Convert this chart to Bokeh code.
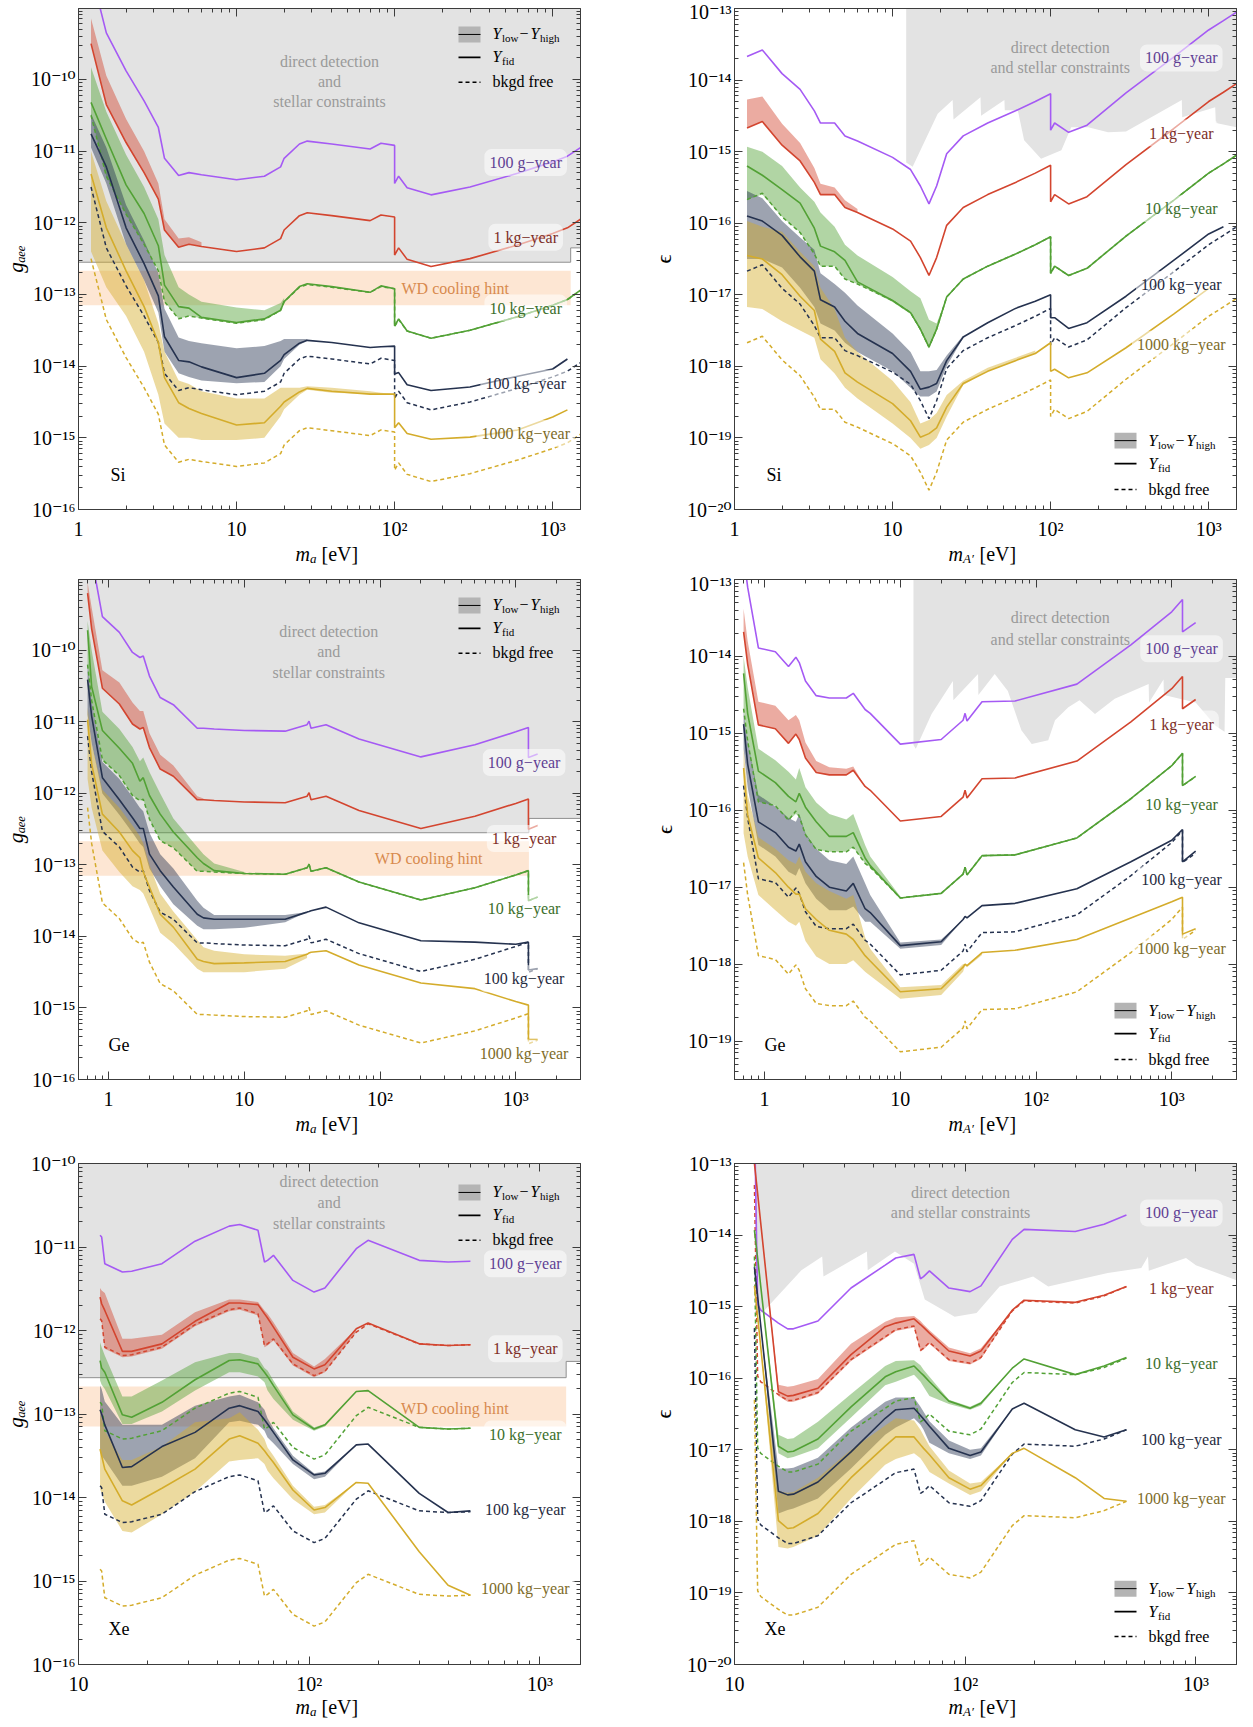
import math
import numpy as np
from bokeh.plotting import figure
from bokeh.models import Range1d, FixedTicker, LogAxis, Label, CustomJSTickFormatter
from bokeh.layouts import row, column
from bokeh.embed import file_html
from bokeh.resources import INLINE

nan = float("nan")

# ======================= DATA (x in eV, y as log10 of coupling) =======================
# ---- Si, axion (g_aee) ----
si_a_x = [1.2, 1.5, 2.0, 2.6, 3.2, 3.5, 4.3, 5.0, 6.0, 10, 15, 19, 20, 25, 28, 40, 70, 82, 100, 100, 106, 120, 170, 300, 600, 1000, 1240, 1500]
si_a_100g = [-8.50, -9.35, -9.88, -10.30, -10.67, -11.10, -11.34, -11.30, -11.33, -11.40, -11.35, -11.22, -11.10, -10.90, -10.86, -10.90, -10.97, -10.89, -10.92, -11.45, -11.35, -11.51, -11.61, -11.50, -11.31, -11.15, -11.07, -10.95]
si_a_1kg = [-9.50, -10.35, -10.88, -11.30, -11.67, -12.10, -12.34, -12.30, -12.33, -12.40, -12.35, -12.22, -12.10, -11.90, -11.86, -11.90, -11.97, -11.89, -11.92, -12.45, -12.35, -12.51, -12.61, -12.50, -12.31, -12.15, -12.07, -11.95]
si_a_1kg_hi = [-9.15, -9.95, -10.55, -11.00, -11.45, -11.95, -12.22, -12.20, -12.27]
si_a_10kg = [-10.32, -10.83, -11.47, -11.87, -12.32, -12.87, -13.17, -13.19, -13.32, -13.39, -13.34, -13.22, -13.10, -12.89, -12.85, -12.89, -12.97, -12.88, -12.92, -13.44, -13.34, -13.51, -13.61, -13.50, -13.31, -13.15, -13.07, -12.94]
si_a_10kg_free = [-10.50, -11.35, -11.88, -12.30, -12.67, -13.10, -13.34, -13.30, -13.33, -13.40, -13.35, -13.22, -13.10, -12.90, -12.86, -12.90, -12.97, -12.89, -12.92, -13.45, -13.35, -13.51, -13.61, -13.50, -13.31, -13.15, -13.07, -12.95]
si_a_10kg_hi = [-9.83, -10.45, -11.05, -11.50, -11.95, -12.45, -12.90, -13.00, -13.10, -13.18, -13.22, -13.12, -13.05]
si_a_10kg_lo = [-10.50, -11.35, -11.88, -12.30, -12.67, -13.10, -13.34, -13.30, -13.33, -13.41, -13.36, -13.23, -13.11]
si_a_100kg = [-10.76, -11.22, -12.07, -12.57, -13.02, -13.59, -13.92, -13.94, -14.01, -14.16, -14.10, -13.92, -13.84, -13.68, -13.64, -13.67, -13.74, -13.73, -13.72, -14.11, -14.09, -14.26, -14.34, -14.29, -14.14, -14.04, -13.90, nan]
si_a_100kg_free = [-11.50, -12.35, -12.88, -13.30, -13.67, -14.10, -14.34, -14.30, -14.33, -14.40, -14.35, -14.22, -14.10, -13.90, -13.86, -13.90, -13.97, -13.89, -13.92, -14.45, -14.35, -14.51, -14.61, -14.50, -14.31, -14.15, -14.07, -13.95]
si_a_100kg_hi = [-10.48, -10.95, -11.75, -12.25, -12.70, -13.20, -13.60, -13.65, -13.68, -13.75, -13.72, -13.65, -13.62, -13.62, -13.62]
si_a_100kg_lo = [-10.95, -11.45, -12.30, -12.80, -13.25, -13.80, -14.10, -14.15, -14.20, -14.24, -14.22, -14.00, -13.90, -13.70, -13.65]
si_a_1000kg = [-11.32, -12.07, -12.67, -13.17, -13.67, -14.16, -14.51, -14.59, -14.66, -14.82, -14.79, -14.56, -14.50, -14.36, -14.31, -14.35, -14.39, -14.39, -14.39, -14.86, -14.79, -14.94, -15.02, -14.99, -14.89, -14.71, -14.61, nan]
si_a_1000kg_free = [-12.50, -13.35, -13.88, -14.30, -14.67, -15.10, -15.34, -15.30, -15.33, -15.40, -15.35, -15.22, -15.10, -14.90, -14.86, -14.90, -14.97, -14.89, -14.92, -15.45, -15.35, -15.51, -15.61, -15.50, -15.31, -15.15, -15.07, -14.95]
si_a_1000kg_hi = [-11.00, -11.70, -12.30, -12.80, -13.40, -13.80, -14.20, -14.25, -14.35, -14.45, -14.45, -14.30, -14.30, -14.30, -14.28, -14.30, -14.35, -14.37, -14.39]
si_a_1000kg_lo = [-12.40, -12.90, -13.30, -13.80, -14.40, -14.80, -15.00, -15.00, -15.03, -15.03, -15.00, -14.70, -14.60, -14.40, -14.33, -14.37]
si_a_con_x = [1, 1300, 1300, 1500]
si_a_con_y = [-12.55, -12.55, -12.35, -12.35]

# ---- Si, dark photon (epsilon) ----
si_d_x = [1.2, 1.5, 2.0, 2.6, 3.2, 3.5, 4.3, 5.0, 6.0, 10, 13, 15, 17, 19, 22, 28, 40, 60, 80, 100, 100, 106, 130, 170, 300, 600, 1000, 1240, 1500]
si_d_100g = [-13.67, -13.58, -13.91, -14.13, -14.43, -14.60, -14.60, -14.78, -14.85, -15.08, -15.25, -15.48, -15.73, -15.48, -15.03, -14.78, -14.60, -14.43, -14.30, -14.19, -14.70, -14.60, -14.73, -14.63, -14.18, -13.68, -13.30, -13.17, -13.05]
si_d_1kg = [-14.67, -14.58, -14.91, -15.13, -15.43, -15.60, -15.60, -15.78, -15.85, -16.08, -16.25, -16.48, -16.73, -16.48, -16.03, -15.78, -15.60, -15.43, -15.30, -15.19, -15.70, -15.60, -15.73, -15.63, -15.18, -14.68, -14.30, -14.17, -14.05]
si_d_1kg_hi = [-14.27, -14.23, -14.61, -14.88, -15.23, -15.45, -15.50, -15.68, -15.80]
si_d_10kg = [-15.20, -15.33, -15.53, -15.72, -16.07, -16.32, -16.40, -16.52, -16.82, -17.08, -17.25, -17.48, -17.73, -17.48, -17.03, -16.78, -16.60, -16.43, -16.30, -16.19, -16.70, -16.60, -16.73, -16.63, -16.18, -15.68, -15.30, -15.17, -15.05]
si_d_10kg_free = [-15.67, -15.58, -15.91, -16.13, -16.43, -16.60, -16.60, -16.78, -16.85, -17.08, -17.25, -17.48, -17.73, -17.48, -17.03, -16.78, -16.60, -16.43, -16.30, -16.19, -16.70, -16.60, -16.73, -16.63, -16.18, -15.68, -15.30, -15.17, -15.05]
si_d_10kg_hi = [-14.93, -15.00, -15.20, -15.50, -15.70, -15.85, -16.05, -16.30, -16.45, -16.75, -16.95, -17.05, -17.35, -17.40, -17.03]
si_d_10kg_lo = [-15.67, -15.60, -15.91, -16.13, -16.43, -16.60, -16.60, -16.78, -16.85, -17.10, -17.27, -17.50, -17.75, -17.50]
si_d_100kg = [-15.90, -15.97, -16.17, -16.47, -16.67, -17.07, -17.17, -17.37, -17.54, -17.82, -18.07, -18.32, -18.29, -18.24, -17.92, -17.59, -17.39, -17.19, -17.09, -17.00, -17.32, -17.32, -17.47, -17.39, -17.02, -16.52, -16.15, -16.05, nan]
si_d_100kg_free = [-16.67, -16.58, -16.91, -17.13, -17.43, -17.60, -17.60, -17.78, -17.85, -18.08, -18.25, -18.48, -18.73, -18.48, -18.03, -17.78, -17.60, -17.43, -17.30, -17.19, -17.70, -17.60, -17.73, -17.63, -17.18, -16.68, -16.30, -16.17, -16.05]
si_d_100kg_hi = [-15.55, -15.65, -15.97, -16.20, -16.37, -16.70, -16.85, -16.97, -17.15, -17.54, -17.80, -18.07, -18.07, -18.05, -17.85, -17.57]
si_d_100kg_lo = [-16.50, -16.50, -16.62, -16.90, -17.17, -17.40, -17.50, -17.67, -17.80, -18.07, -18.30, -18.42, -18.42, -18.35, -18.00, -17.60]
si_d_1000kg = [-16.45, -16.50, -16.72, -17.02, -17.22, -17.62, -17.79, -18.09, -18.22, -18.52, -18.76, -18.99, -18.94, -18.86, -18.57, -18.24, -18.07, -17.92, -17.82, -17.67, -18.07, -18.04, -18.16, -18.09, -17.74, -17.27, -16.91, nan, nan]
si_d_1000kg_free = [-17.67, -17.58, -17.91, -18.13, -18.43, -18.60, -18.60, -18.78, -18.85, -19.08, -19.25, -19.48, -19.73, -19.48, -19.03, -18.78, -18.60, -18.43, -18.30, -18.19, -18.70, -18.60, -18.73, -18.63, -18.18, -17.68, -17.30, -17.17, -17.05]
si_d_1000kg_hi = [-15.97, -16.05, -16.12, -16.40, -16.60, -16.90, -17.20, -17.60, -17.80, -18.20, -18.50, -18.80, -18.75, -18.65, -18.40, -18.20, -18.02, -17.88, -17.78]
si_d_1000kg_lo = [-17.17, -17.20, -17.37, -17.50, -17.60, -17.90, -18.10, -18.30, -18.45, -18.80, -19.00, -19.15, -19.10, -19.00, -18.70, -18.26]
si_d_con_x = [12.2, 12.2, 13.4, 16, 19.3, 24, 24.3, 36, 36.3, 51, 51.3, 62, 68, 87, 117, 135, 173, 231, 300, 676, 680, 1100, 1110, 1500, 1500]
si_d_con_y = [-13, -15.15, -15.21, -14.85, -14.47, -14.28, -14.55, -14.24, -14.5, -14.28, -14.42, -14.42, -14.84, -15.10, -14.98, -14.66, -14.66, -14.73, -14.72, -14.28, -14.52, -14.38, -14.6, -14.66, -13]

# ---- Ge, axion ----
ge_a_x = [0.7, 0.75, 0.9, 1.2, 1.5, 1.7, 1.8, 2.0, 2.4, 3.0, 4.5, 5.0, 6.0, 10, 20, 29, 30, 31, 40, 70, 200, 500, 1000, 1240, 1240, 1450]
ge_a_100g = [-8.20, -8.70, -9.53, -9.75, -10.03, -10.10, -10.08, -10.36, -10.66, -10.76, -11.09, -11.09, -11.10, -11.12, -11.13, -11.04, -10.99, -11.09, -11.04, -11.24, -11.49, -11.32, -11.14, -11.08, -11.50, -11.45]
ge_a_1kg = [-9.20, -9.70, -10.53, -10.75, -11.03, -11.10, -11.08, -11.36, -11.66, -11.76, -12.09, -12.09, -12.10, -12.12, -12.13, -12.04, -11.99, -12.09, -12.04, -12.24, -12.49, -12.32, -12.14, -12.08, -12.50, -12.45]
ge_a_1kg_hi = [-9.05, -9.40, -10.28, -10.45, -10.73, -10.85, -10.85, -11.16, -11.46, -11.61, -12.04, -12.07]
ge_a_10kg = [-9.72, -10.51, -11.12, -11.37, -11.58, -11.83, -11.78, -12.03, -12.29, -12.54, -12.90, -12.98, -13.08, -13.12, -13.13, -13.04, -12.99, -13.09, -13.04, -13.24, -13.49, -13.32, -13.14, -13.08, -13.50, -13.45]
ge_a_10kg_free = [-10.20, -10.70, -11.53, -11.75, -12.03, -12.10, -12.08, -12.36, -12.66, -12.76, -13.09, -13.09, -13.10, -13.12, -13.13, -13.04, -12.99, -13.09, -13.04, -13.24, -13.49, -13.32, -13.14, -13.08, -13.50, -13.45]
ge_a_10kg_hi = [-9.59, -10.00, -10.86, -11.10, -11.35, -11.55, -11.50, -11.70, -12.00, -12.35, -12.75, -12.85, -12.98, -13.10]
ge_a_10kg_lo = [-10.20, -10.70, -11.53, -11.75, -12.03, -12.10, -12.08, -12.36, -12.66, -12.76, -13.09, -13.09, -13.10, -13.13]
ge_a_100kg = [-10.41, -10.92, -11.78, -12.09, -12.34, -12.49, -12.49, -12.85, -13.08, -13.31, -13.69, -13.74, -13.76, -13.76, -13.76, -13.66, -13.65, -13.64, -13.59, -13.81, -14.06, -14.08, -14.11, -14.08, -14.47, -14.45]
ge_a_100kg_free = [-11.20, -11.70, -12.53, -12.75, -13.03, -13.10, -13.08, -13.36, -13.66, -13.76, -14.09, -14.09, -14.10, -14.12, -14.13, -14.04, -13.99, -14.09, -14.04, -14.24, -14.49, -14.32, -14.14, -14.08, -14.50, -14.45]
ge_a_100kg_hi = [-10.20, -10.70, -11.56, -11.80, -12.05, -12.20, -12.25, -12.55, -12.85, -13.05, -13.50, -13.60, -13.70, -13.70, -13.70, -13.66]
ge_a_100kg_lo = [-10.90, -11.30, -12.00, -12.30, -12.55, -12.70, -12.75, -13.05, -13.30, -13.55, -13.85, -13.90, -13.90, -13.88, -13.80, -13.66]
ge_a_1000kg = [-10.97, -11.59, -12.29, -12.54, -12.80, -12.90, -13.10, -13.31, -13.69, -13.87, -14.32, -14.35, -14.38, -14.37, -14.35, -14.25, -14.23, -14.22, -14.20, -14.40, -14.65, -14.73, -14.91, -14.96, -15.44, -15.44]
ge_a_1000kg_free = [-12.20, -12.70, -13.53, -13.75, -14.03, -14.10, -14.08, -14.36, -14.66, -14.76, -15.09, -15.09, -15.10, -15.12, -15.13, -15.04, -14.99, -15.09, -15.04, -15.24, -15.49, -15.32, -15.14, -15.08, -15.50, -15.45]
ge_a_1000kg_hi = [-10.80, -11.30, -11.95, -12.20, -12.45, -12.60, -12.70, -13.00, -13.40, -13.65, -14.05, -14.15, -14.20, -14.25, -14.27, -14.24]
ge_a_1000kg_lo = [-11.80, -12.20, -12.80, -13.10, -13.30, -13.35, -13.40, -13.60, -13.95, -14.10, -14.45, -14.50, -14.50, -14.50, -14.45, -14.30]
ge_a_con_x = [0.6, 1250, 1250, 3000]
ge_a_con_y = [-12.55, -12.55, -12.35, -12.35]

# ---- Ge, dark photon ----
ge_d_x = [0.7, 0.75, 0.9, 1.2, 1.5, 1.7, 1.8, 2.0, 2.4, 3.0, 4.0, 4.5, 5.5, 6.0, 10, 20, 29, 30, 31, 40, 70, 200, 500, 1000, 1200, 1200, 1500]
ge_d_100g = [-12.68, -13.10, -13.89, -13.94, -14.13, -14.01, -14.08, -14.32, -14.51, -14.54, -14.54, -14.48, -14.69, -14.74, -15.14, -15.08, -14.83, -14.74, -14.84, -14.59, -14.58, -14.36, -13.85, -13.42, -13.26, -13.68, -13.56]
ge_d_1kg = [-13.68, -14.10, -14.89, -14.94, -15.13, -15.01, -15.08, -15.32, -15.51, -15.54, -15.54, -15.48, -15.69, -15.74, -16.14, -16.08, -15.83, -15.74, -15.84, -15.59, -15.58, -15.36, -14.85, -14.42, -14.26, -14.68, -14.56]
ge_d_1kg_hi = [-13.38, -13.80, -14.59, -14.64, -14.83, -14.76, -14.83, -15.12, -15.36, -15.44, -15.46, -15.43, -15.69]
ge_d_10kg = [-14.22, -14.74, -15.49, -15.64, -15.82, -15.89, -15.78, -15.96, -16.15, -16.34, -16.34, -16.29, -16.62, -16.72, -17.14, -17.08, -16.83, -16.74, -16.84, -16.59, -16.58, -16.36, -15.85, -15.42, -15.26, -15.68, -15.56]
ge_d_10kg_free = [-14.68, -15.10, -15.89, -15.94, -16.13, -16.01, -16.08, -16.32, -16.51, -16.54, -16.54, -16.48, -16.69, -16.74, -17.14, -17.08, -16.83, -16.74, -16.84, -16.59, -16.58, -16.36, -15.85, -15.42, -15.26, -15.68, -15.56]
ge_d_10kg_hi = [-14.00, -14.40, -15.20, -15.35, -15.50, -15.60, -15.45, -15.70, -15.90, -16.05, -16.12, -16.05, -16.45, -16.60, -17.12]
ge_d_10kg_lo = [-14.68, -15.10, -15.89, -15.94, -16.13, -16.05, -16.08, -16.32, -16.51, -16.54, -16.54, -16.48, -16.69, -16.74, -17.15]
ge_d_100kg = [-14.88, -15.40, -16.15, -16.29, -16.48, -16.53, -16.44, -16.67, -16.86, -17.00, -17.05, -16.95, -17.28, -17.33, -17.76, -17.71, -17.42, -17.38, -17.40, -17.24, -17.21, -17.02, -16.67, -16.39, -16.25, -16.67, -16.53]
ge_d_100kg_free = [-15.68, -16.10, -16.89, -16.94, -17.13, -17.01, -17.08, -17.32, -17.51, -17.54, -17.54, -17.48, -17.69, -17.74, -18.14, -18.08, -17.83, -17.74, -17.84, -17.59, -17.58, -17.36, -16.85, -16.42, -16.26, -16.68, -16.56]
ge_d_100kg_hi = [-14.70, -15.10, -15.80, -15.95, -16.10, -16.15, -16.05, -16.30, -16.50, -16.65, -16.70, -16.60, -16.95, -17.10, -17.72, -17.68, -17.42]
ge_d_100kg_lo = [-15.20, -15.70, -16.45, -16.60, -16.80, -16.85, -16.75, -16.95, -17.15, -17.30, -17.30, -17.25, -17.45, -17.45, -17.80, -17.75, -17.42]
ge_d_1000kg = [-15.45, -16.06, -16.62, -16.81, -17.00, -17.09, -17.09, -17.28, -17.42, -17.56, -17.61, -17.68, -17.89, -17.96, -18.36, -18.32, -18.04, -18.00, -18.02, -17.85, -17.82, -17.68, -17.40, -17.19, -17.13, -17.61, -17.54]
ge_d_1000kg_free = [-16.68, -17.10, -17.89, -17.94, -18.13, -18.01, -18.08, -18.32, -18.51, -18.54, -18.54, -18.48, -18.69, -18.74, -19.14, -19.08, -18.83, -18.74, -18.84, -18.59, -18.58, -18.36, -17.85, -17.42, -17.26, -17.68, -17.56]
ge_d_1000kg_hi = [-15.20, -15.80, -16.35, -16.50, -16.65, -16.70, -16.60, -16.80, -16.95, -17.05, -17.15, -17.10, -17.65, -17.80, -18.30, -18.27, -18.00]
ge_d_1000kg_lo = [-16.30, -16.60, -17.10, -17.30, -17.45, -17.50, -17.45, -17.70, -17.90, -18.00, -18.00, -17.95, -18.10, -18.15, -18.45, -18.40, -18.10, -18.02, -18.04, -17.88]
ge_d_con_x = [12.5, 12.5, 13.0, 17, 24.4, 24.6, 37.4, 37.6, 49.6, 62, 78, 93, 123, 138, 173, 209, 272, 380, 676, 680, 870, 875, 1500, 2100, 2450, 2480, 3000, 3000]
ge_d_con_y = [-13, -15.15, -15.2, -14.75, -14.32, -14.57, -14.23, -14.5, -14.23, -14.45, -14.96, -15.14, -15.09, -14.83, -14.66, -14.57, -14.75, -14.55, -14.36, -14.6, -14.3, -14.5, -14.6, -14.9, -14.98, -14.28, -14.28, -13]

# ---- Xe, axion ----
xe_a_x = [12.4, 12.6, 13, 15.5, 17, 23, 32, 45, 50, 60, 64, 66, 70, 85, 105, 117, 160, 180, 300, 400, 500]
xe_a_100g = [-10.86, -10.88, -11.20, -11.30, -11.29, -11.20, -10.93, -10.75, -10.73, -10.80, -11.18, -11.16, -11.10, -11.40, -11.54, -11.49, -11.02, -10.92, -11.16, -11.18, -11.17]
xe_a_1kg = [-11.60, -11.68, -11.76, -12.25, -12.25, -12.16, -11.89, -11.67, -11.67, -11.69, -11.80, -11.85, -11.96, -12.32, -12.46, -12.41, -11.98, -11.91, -12.16, -12.18, -12.17]
xe_a_1kg_free = [-11.86, -11.88, -12.20, -12.30, -12.29, -12.20, -11.93, -11.75, -11.73, -11.80, -12.18, -12.16, -12.10, -12.40, -12.54, -12.49, -12.02, -11.92, -12.16, -12.18, -12.17]
xe_a_1kg_hi = [-11.49, -11.52, -11.55, -12.10, -12.10, -12.05, -11.78, -11.63, -11.63, -11.66, -11.76, -11.80, -11.90, -12.27, -12.43, -12.34, -11.98]
xe_a_1kg_lo = [-11.88, -11.90, -12.22, -12.32, -12.31, -12.22, -11.95, -11.77, -11.75, -11.82, -12.20, -12.18, -12.12, -12.42, -12.56, -12.50, -12.02]
xe_a_10kg = [-12.36, -12.45, -12.50, -13.01, -13.04, -12.86, -12.59, -12.36, -12.35, -12.40, -12.50, -12.55, -12.66, -13.01, -13.18, -13.13, -12.73, -12.72, -13.16, -13.18, -13.17]
xe_a_10kg_free = [-12.86, -12.88, -13.20, -13.30, -13.29, -13.20, -12.93, -12.75, -12.73, -12.80, -13.18, -13.16, -13.10, -13.40, -13.54, -13.49, -13.02, -12.92, -13.16, -13.18, -13.17]
xe_a_10kg_hi = [-12.14, -12.20, -12.30, -12.79, -12.79, -12.60, -12.38, -12.27, -12.27, -12.33, -12.45, -12.48, -12.60, -12.97, -13.16, -13.12, -12.73]
xe_a_10kg_lo = [-12.60, -12.65, -12.70, -13.12, -13.12, -12.97, -12.72, -12.50, -12.50, -12.55, -12.62, -12.72, -12.82, -13.07, -13.20, -13.15, -12.73]
xe_a_100kg = [-12.95, -13.00, -13.13, -13.64, -13.63, -13.39, -13.22, -12.93, -12.90, -12.97, -13.07, -13.12, -13.22, -13.55, -13.73, -13.71, -13.37, -13.36, -13.95, -14.18, -14.16]
xe_a_100kg_free = [-13.86, -13.88, -14.20, -14.30, -14.29, -14.20, -13.93, -13.75, -13.73, -13.80, -14.18, -14.16, -14.10, -14.40, -14.54, -14.49, -14.02, -13.92, -14.16, -14.18, -14.17]
xe_a_100kg_hi = [-12.66, -12.70, -12.85, -13.13, -13.13, -13.13, -12.90, -12.79, -12.77, -12.86, -12.95, -13.05, -13.17, -13.50, -13.71, -13.69, -13.37]
xe_a_100kg_lo = [-13.45, -13.50, -13.55, -13.86, -13.86, -13.75, -13.53, -13.10, -13.08, -13.13, -13.20, -13.28, -13.35, -13.60, -13.78, -13.75, -13.37]
xe_a_1000kg = [-13.42, -13.50, -13.66, -14.04, -14.09, -13.89, -13.66, -13.30, -13.26, -13.35, -13.44, -13.49, -13.58, -13.91, -14.15, -14.12, -13.82, -13.83, -14.65, -15.05, -15.17]
xe_a_1000kg_free = [-14.86, -14.88, -15.20, -15.30, -15.29, -15.20, -14.93, -14.75, -14.73, -14.80, -15.18, -15.16, -15.10, -15.40, -15.54, -15.49, -15.02, -14.92, -15.16, -15.18, -15.17]
xe_a_1000kg_hi = [-13.00, -13.05, -13.20, -13.55, -13.55, -13.39, -13.10, -13.05, -12.98, -13.19, -13.30, -13.40, -13.50, -13.86, -14.11, -14.09, -13.82]
xe_a_1000kg_lo = [-13.90, -13.95, -14.05, -14.40, -14.42, -14.20, -13.93, -13.57, -13.55, -13.53, -13.60, -13.68, -13.77, -14.02, -14.20, -14.18, -13.82]
xe_a_con_x = [10, 1300, 1300, 1500]
xe_a_con_y = [-12.565, -12.565, -12.37, -12.37]

# ---- Xe, dark photon ----
xe_d_x = [12.2, 12.6, 13, 15.5, 17, 18, 23, 32, 45, 50, 60, 64, 66, 70, 85, 105, 117, 160, 180, 300, 400, 500]
xe_d_100g = [-12.30, -14.97, -15.05, -15.23, -15.31, -15.31, -15.20, -14.74, -14.42, -14.32, -14.27, -14.61, -14.58, -14.50, -14.74, -14.79, -14.71, -14.06, -13.92, -13.95, -13.85, -13.72]
xe_d_1kg = [-13.00, -13.42, -13.84, -16.19, -16.25, -16.24, -16.14, -15.67, -15.28, -15.23, -15.17, -15.25, -15.29, -15.37, -15.62, -15.69, -15.62, -15.05, -14.91, -14.94, -14.84, -14.72]
xe_d_1kg_free = [-13.30, -15.97, -16.05, -16.23, -16.31, -16.31, -16.20, -15.74, -15.42, -15.32, -15.27, -15.61, -15.58, -15.50, -15.74, -15.79, -15.71, -15.06, -14.92, -14.95, -14.85, -14.72]
xe_d_1kg_hi = [-13.00, -13.42, -13.84, -16.09, -16.12, -16.11, -16.01, -15.52, -15.21, -15.15, -15.13, -15.20, -15.25, -15.33, -15.57, -15.65, -15.58, -15.05]
xe_d_1kg_lo = [-13.00, -13.42, -13.84, -16.25, -16.33, -16.33, -16.22, -15.76, -15.44, -15.34, -15.29, -15.63, -15.60, -15.52, -15.76, -15.81, -15.73, -15.06]
xe_d_10kg = [-13.93, -14.32, -14.72, -16.95, -17.03, -17.02, -16.85, -16.40, -15.98, -15.91, -15.83, -15.92, -15.96, -16.05, -16.32, -16.42, -16.35, -15.86, -15.73, -15.95, -15.83, -15.71]
xe_d_10kg_free = [-14.30, -16.97, -17.05, -17.23, -17.31, -17.31, -17.20, -16.74, -16.42, -16.32, -16.27, -16.61, -16.58, -16.50, -16.74, -16.79, -16.71, -16.06, -15.92, -15.95, -15.85, -15.72]
xe_d_10kg_hi = [-13.93, -14.32, -14.72, -16.79, -16.85, -16.84, -16.61, -16.22, -15.83, -15.76, -15.75, -15.82, -15.88, -15.98, -16.30, -16.40, -16.33, -15.86]
xe_d_10kg_lo = [-13.93, -14.32, -14.72, -17.05, -17.12, -17.10, -16.98, -16.55, -16.10, -16.05, -15.95, -16.05, -16.12, -16.25, -16.36, -16.44, -16.38, -15.86]
xe_d_100kg = [-14.45, -14.86, -15.27, -17.58, -17.63, -17.62, -17.45, -17.03, -16.56, -16.44, -16.42, -16.52, -16.57, -16.67, -16.98, -17.08, -17.03, -16.43, -16.35, -16.72, -16.82, -16.72]
xe_d_100kg_free = [-15.30, -17.97, -18.05, -18.23, -18.31, -18.31, -18.20, -17.74, -17.42, -17.32, -17.27, -17.61, -17.58, -17.50, -17.74, -17.79, -17.71, -17.06, -16.92, -16.95, -16.85, -16.72]
xe_d_100kg_hi = [-14.45, -14.86, -15.27, -17.26, -17.26, -17.25, -17.11, -16.69, -16.33, -16.27, -16.27, -16.40, -16.47, -16.60, -16.87, -17.00, -16.98, -16.43]
xe_d_100kg_lo = [-14.45, -14.86, -15.27, -17.89, -17.84, -17.82, -17.68, -17.26, -16.79, -16.69, -16.56, -16.65, -16.72, -16.90, -17.05, -17.13, -17.08, -16.43]
xe_d_1000kg = [-14.71, -15.14, -15.57, -17.99, -18.10, -18.09, -17.89, -17.39, -16.95, -16.82, -16.82, -16.93, -16.98, -17.07, -17.39, -17.55, -17.50, -17.05, -16.98, -17.39, -17.68, -17.72]
xe_d_1000kg_free = [-16.30, -18.97, -19.05, -19.23, -19.31, -19.31, -19.20, -18.74, -18.42, -18.32, -18.27, -18.61, -18.58, -18.50, -18.74, -18.79, -18.71, -18.06, -17.92, -17.95, -17.85, -17.72]
xe_d_1000kg_hi = [-14.71, -15.14, -15.57, -17.58, -17.60, -17.59, -17.39, -17.00, -16.66, -16.56, -16.59, -16.72, -16.80, -16.95, -17.29, -17.47, -17.45, -17.05]
xe_d_1000kg_lo = [-14.71, -15.14, -15.57, -18.36, -18.38, -18.36, -18.20, -17.68, -17.21, -17.13, -17.05, -17.12, -17.18, -17.31, -17.47, -17.63, -17.58, -17.05]
xe_d_con_x = [12.3, 12.3, 13.5, 19.5, 24, 24.3, 37.5, 37.8, 49.6, 60, 66.8, 90, 112, 141, 197, 229, 415, 580, 620, 625, 906, 1000, 1500, 1500]
xe_d_con_y = [-13, -15.14, -15.05, -14.49, -14.30, -14.58, -14.23, -14.49, -14.23, -14.40, -14.90, -15.14, -15.09, -14.72, -14.58, -14.72, -14.53, -14.46, -14.30, -14.5, -14.32, -14.42, -14.63, -13]

# white-dwarf cooling hint band (log10 g_aee)
wd_band = [-13.15, -12.67]

exposure_keys = ["100g", "1kg", "10kg", "100kg", "1000kg"]
exposure_labels = ["100 g\u2212year", "1 kg\u2212year", "10 kg\u2212year", "100 kg\u2212year", "1000 kg\u2212year"]

# ======================= STYLE =======================
FONT = "Liberation Serif"
TICKFONT = "Liberation Serif, DejaVu Serif, serif"
COL = {"100g": "#a55af4", "1kg": "#d3452f", "10kg": "#52a135", "100kg": "#25324f", "1000kg": "#d4ac2b"}
LABCOL = {"100g": "#5f3f94", "1kg": "#7d2e27", "10kg": "#3b6e2a", "100kg": "#1f2a40", "1000kg": "#7d6b28"}
GRAY = "#e3e3e3"
WD = "#fde6d3"
AXC = "#3c3c3c"

SUP_CODE = """
const e = Math.round(Math.log10(tick));
if (e === 0) { return "1"; }
if (e === 1) { return "10"; }
const m = {"-": "\u207b", "0": "\u2070", "1": "\u00b9", "2": "\u00b2", "3": "\u00b3", "4": "\u2074", "5": "\u2075", "6": "\u2076", "7": "\u2077", "8": "\u2078", "9": "\u2079"};
let s = "10";
for (const c of String(e)) { s += m[c]; }
return s;
"""


def log_ticks(lo, hi):
    majors, minors = [], []
    for n in range(math.floor(math.log10(lo)) - 1, math.ceil(math.log10(hi)) + 1):
        v = 10.0 ** n
        if lo * 0.999 <= v <= hi * 1.001:
            majors.append(v)
        for k in range(2, 10):
            if lo <= k * v <= hi:
                minors.append(k * v)
    return majors, minors


def make_fig(xr, yr, w, h, bl, br, bt, bb, ytitle, ystyle, ysize, ystand):
    p = figure(width=w, height=h, x_axis_type="log", y_axis_type="log",
               x_range=Range1d(*xr), y_range=Range1d(*yr), title=None,
               output_backend="svg", toolbar_location=None,
               min_border_left=bl, min_border_right=br, min_border_top=bt, min_border_bottom=bb)
    p.background_fill_color = "white"
    p.border_fill_color = "white"
    p.outline_line_color = AXC
    p.xgrid.visible = False
    p.ygrid.visible = False
    xmaj, xmin = log_ticks(*xr)
    ymaj, ymin = log_ticks(*yr)
    xt = FixedTicker(ticks=xmaj, minor_ticks=xmin)
    yt = FixedTicker(ticks=ymaj, minor_ticks=ymin)
    bx = p.below[0]
    ly = p.left[0]
    bx.ticker = xt
    ly.ticker = yt
    bx.formatter = CustomJSTickFormatter(code=SUP_CODE)
    ly.formatter = CustomJSTickFormatter(code=SUP_CODE)
    top = LogAxis(ticker=xt, formatter=CustomJSTickFormatter(code="return '';"))
    right = LogAxis(ticker=yt, formatter=CustomJSTickFormatter(code="return '';"))
    for ax in [bx, ly, top, right]:
        ax.major_tick_in = 8
        ax.major_tick_out = 0
        ax.minor_tick_in = 4
        ax.minor_tick_out = 0
        ax.axis_line_color = AXC
        ax.major_tick_line_color = AXC
        ax.minor_tick_line_color = AXC
        ax.major_label_text_font = TICKFONT
        ax.major_label_text_font_size = "20px"
        ax.major_label_text_color = "black"
    for ax in [top, right]:
        ax.major_label_text_font_size = "0px"
        ax.major_label_standoff = 0
    bx.major_label_standoff = 8
    ly.major_label_standoff = 3
    ly.axis_label = ytitle
    ly.axis_label_text_font = TICKFONT
    ly.axis_label_text_font_size = f"{ysize}px"
    ly.axis_label_text_font_style = ystyle
    ly.axis_label_text_color = "black"
    ly.axis_label_standoff = ystand
    p.add_layout(top, "above")
    p.add_layout(right, "right")
    return p


def add_text(p, x, y, text, size, color="black", style="normal", align="left",
             baseline="middle", angle=0.0, units="screen", bg=False):
    kw = {}
    if bg:
        kw = dict(background_fill_color="white", background_fill_alpha=0.55,
                  padding=5, border_radius=7)
    p.add_layout(Label(x=x, y=y, x_units=units, y_units=units, text=text, text_font=FONT,
                       text_font_size=f"{size}px", text_color=color, text_font_style=style,
                       text_align=align, text_baseline=baseline, angle=angle, **kw))


def draw_series(p, x, sers):
    X = np.asarray(x, float)
    for key, line, free, hi, lo in sers:
        if hi is None and lo is None:
            continue
        L = list(line)
        hi = list(hi or [])
        lo = list(lo or [])
        n = max(len(hi), len(lo))
        H = np.array(hi + L[len(hi):n], float)
        Lo = np.array(lo + L[len(lo):n], float)
        p.varea(x=X[:n], y1=10 ** Lo, y2=10 ** H, fill_color=COL[key], fill_alpha=0.45)
    for key, line, free, hi, lo in sers:
        if free is not None:
            p.line(X, 10 ** np.asarray(free, float), line_color=COL[key], line_width=1.5, line_dash="4 3")
    for key, line, free, hi, lo in sers:
        p.line(X, 10 ** np.asarray(line, float), line_color=COL[key], line_width=1.6)


def axion_bg(p, xr, yr, con_x, con_y, wd_xmax):
    lower = [10 ** v for v in con_y]
    p.varea(x=con_x, y1=lower, y2=[yr[1] * 2] * len(con_x), fill_color=GRAY)
    p.line(con_x, lower, line_color="#8f8f8f", line_width=1)
    p.quad(left=xr[0], right=wd_xmax, bottom=10 ** wd_band[0], top=10 ** wd_band[1],
           fill_color=WD, line_color=None)


def dp_bg(p, con_x, con_y):
    p.patch(con_x, [10 ** v for v in con_y], fill_color=GRAY, line_color=None)


def legend(p, xr, yr, fw, fh, rows):
    lx0, lx1 = math.log10(xr[0]), math.log10(xr[1])
    ly0, ly1 = math.log10(yr[0]), math.log10(yr[1])

    def X(px):
        return 10 ** (lx0 + px / fw * (lx1 - lx0))

    def Y(py):
        return 10 ** (ly0 + py / fh * (ly1 - ly0))

    r1, r2, r3 = rows
    b0, b1, tx = 380, 402, 414
    p.quad(left=X(b0), right=X(b1), bottom=Y(r1 - 8), top=Y(r1 + 8), fill_color="#b4b4b4", line_color=None)
    p.line([X(b0), X(b1)], [Y(r1), Y(r1)], line_color="black", line_width=1)
    p.line([X(b0), X(b1)], [Y(r2), Y(r2)], line_color="black", line_width=1.6)
    p.line([X(b0), X(b1)], [Y(r3), Y(r3)], line_color="black", line_width=1.5, line_dash="4 3")
    add_text(p, tx, r1, "Y", 16, style="italic")
    add_text(p, tx + 9.5, r1 - 4, "low", 11)
    add_text(p, tx + 27, r1, "\u2212", 16)
    add_text(p, tx + 38, r1, "Y", 16, style="italic")
    add_text(p, tx + 47.5, r1 - 4, "high", 11)
    add_text(p, tx, r2, "Y", 16, style="italic")
    add_text(p, tx + 9.5, r2 - 4, "fid", 11)
    add_text(p, tx, r3, "bkgd free", 16)


def curve_labels(p, lx, lys):
    for key, txt, ly in zip(exposure_keys, exposure_labels, lys):
        add_text(p, lx, 10 ** ly, txt, 16, color=LABCOL[key], align="center",
                 units="data", bg=True)


def dd_text(p, x, lines):
    for txt, ly in lines:
        add_text(p, x, 10 ** ly, txt, 16, color="#9a9a9a", align="center", units="data")


def title_strip(h, base):
    """Blank strip below a row holding the two x-axis titles (pixel coordinates)."""
    W = 1241
    s = figure(width=W, height=h, x_range=Range1d(0, W), y_range=Range1d(0, h),
               x_axis_type=None, y_axis_type=None, title=None,
               output_backend="svg", toolbar_location=None,
               min_border_left=0, min_border_right=0, min_border_top=0, min_border_bottom=0)
    s.outline_line_color = None
    s.background_fill_color = "white"
    s.border_fill_color = "white"
    s.xgrid.visible = False
    s.ygrid.visible = False
    x0 = 295
    add_text(s, x0, base, "m", 20, style="italic", baseline="alphabetic", units="data")
    add_text(s, x0 + 14.5, base - 5, "a", 13, style="italic", baseline="alphabetic", units="data")
    add_text(s, x0 + 26, base, "[eV]", 20, baseline="alphabetic", units="data")
    x1 = 948
    add_text(s, x1, base, "m", 20, style="italic", baseline="alphabetic", units="data")
    add_text(s, x1 + 14.5, base - 5, "A\u2032", 13, style="italic", baseline="alphabetic", units="data")
    add_text(s, x1 + 31, base, "[eV]", 20, baseline="alphabetic", units="data")
    return s


# ======================= PANELS =======================
FW = 502
GA = "g\u2090\u2091\u2091"
EPS = "\u03f5"

# ---- Si axion ----
xr, yr = (1, 1500), (1e-16, 10 ** -9.01)
p1 = make_fig(xr, yr, 590, 542, 78, 10, 8, 32, GA, "italic", 21, 0)
axion_bg(p1, xr, yr, si_a_con_x, si_a_con_y, 1300)
draw_series(p1, si_a_x, [
    ("100g", si_a_100g, None, None, None),
    ("1kg", si_a_1kg, None, si_a_1kg_hi, None),
    ("10kg", si_a_10kg, si_a_10kg_free, si_a_10kg_hi, si_a_10kg_lo),
    ("100kg", si_a_100kg, si_a_100kg_free, si_a_100kg_hi, si_a_100kg_lo),
    ("1000kg", si_a_1000kg, si_a_1000kg_free, si_a_1000kg_hi, si_a_1000kg_lo)])
dd_text(p1, 38.7, [("direct detection", -9.75), ("and", -10.03), ("stellar constraints", -10.31)])
add_text(p1, 242, 10 ** -12.91, "WD cooling hint", 16, color="#d88a4e", align="center", units="data")
curve_labels(p1, 675, [-11.16, -12.20, -13.19, -14.24, -14.94])
legend(p1, xr, yr, FW, 502, (476, 453, 428))
add_text(p1, 32, 35, "Si", 18)

# ---- Si dark photon ----
xr, yr = (1, 1500), (1e-20, 1e-13)
p2 = make_fig(xr, yr, 651, 542, 144, 5, 8, 32, EPS, "normal", 22, 8)
dp_bg(p2, si_d_con_x, si_d_con_y)
draw_series(p2, si_d_x, [
    ("100g", si_d_100g, None, None, None),
    ("1kg", si_d_1kg, None, si_d_1kg_hi, None),
    ("10kg", si_d_10kg, si_d_10kg_free, si_d_10kg_hi, si_d_10kg_lo),
    ("100kg", si_d_100kg, si_d_100kg_free, si_d_100kg_hi, si_d_100kg_lo),
    ("1000kg", si_d_1000kg, si_d_1000kg_free, si_d_1000kg_hi, si_d_1000kg_lo)])
dd_text(p2, 115, [("direct detection", -13.54), ("and stellar constraints", -13.83)])
curve_labels(p2, 671, [-13.69, -14.74, -15.80, -16.86, -17.69])
legend(p2, xr, yr, FW, 502, (69, 46, 20))
add_text(p2, 32, 35, "Si", 18)

# ---- Ge axion ----
xr, yr = (0.6, 3000), (1e-16, 10 ** -9.01)
p3 = make_fig(xr, yr, 590, 540, 78, 10, 7, 32, GA, "italic", 21, 0)
axion_bg(p3, xr, yr, ge_a_con_x, ge_a_con_y, 1250)
draw_series(p3, ge_a_x, [
    ("100g", ge_a_100g, None, None, None),
    ("1kg", ge_a_1kg, None, ge_a_1kg_hi, None),
    ("10kg", ge_a_10kg, ge_a_10kg_free, ge_a_10kg_hi, ge_a_10kg_lo),
    ("100kg", ge_a_100kg, ge_a_100kg_free, ge_a_100kg_hi, ge_a_100kg_lo),
    ("1000kg", ge_a_1000kg, ge_a_1000kg_free, ge_a_1000kg_hi, ge_a_1000kg_lo)])
dd_text(p3, 41.9, [("direct detection", -9.74), ("and", -10.02), ("stellar constraints", -10.31)])
add_text(p3, 228, 10 ** -12.91, "WD cooling hint", 16, color="#d88a4e", align="center", units="data")
curve_labels(p3, 1153, [-11.57, -12.63, -13.61, -14.59, -15.63])
legend(p3, xr, yr, FW, 501, (475, 452, 427))
add_text(p3, 30, 35, "Ge", 18)

# ---- Ge dark photon ----
xr, yr = (0.6, 3000), (10 ** -19.5, 1e-13)
p4 = make_fig(xr, yr, 651, 540, 144, 5, 7, 32, EPS, "normal", 22, 8)
dp_bg(p4, ge_d_con_x, ge_d_con_y)
draw_series(p4, ge_d_x, [
    ("100g", ge_d_100g, None, None, None),
    ("1kg", ge_d_1kg, None, ge_d_1kg_hi, None),
    ("10kg", ge_d_10kg, ge_d_10kg_free, ge_d_10kg_hi, ge_d_10kg_lo),
    ("100kg", ge_d_100kg, ge_d_100kg_free, ge_d_100kg_hi, ge_d_100kg_lo),
    ("1000kg", ge_d_1000kg, ge_d_1000kg_free, ge_d_1000kg_hi, ge_d_1000kg_lo)])
dd_text(p4, 151, [("direct detection", -13.50), ("and stellar constraints", -13.78)])
curve_labels(p4, 1181, [-13.90, -14.88, -15.92, -16.90, -17.80])
legend(p4, xr, yr, FW, 501, (69, 46, 20))
add_text(p4, 30, 35, "Ge", 18)

# ---- Xe axion ----
xr, yr = (10, 1500), (1e-16, 1e-10)
p5 = make_fig(xr, yr, 590, 555, 78, 10, 21, 32, GA, "italic", 21, 0)
axion_bg(p5, xr, yr, xe_a_con_x, xe_a_con_y, 1300)
draw_series(p5, xe_a_x, [
    ("100g", xe_a_100g, None, None, None),
    ("1kg", xe_a_1kg, xe_a_1kg_free, xe_a_1kg_hi, xe_a_1kg_lo),
    ("10kg", xe_a_10kg, xe_a_10kg_free, xe_a_10kg_hi, xe_a_10kg_lo),
    ("100kg", xe_a_100kg, xe_a_100kg_free, xe_a_100kg_hi, xe_a_100kg_lo),
    ("1000kg", xe_a_1000kg, xe_a_1000kg_free, xe_a_1000kg_hi, xe_a_1000kg_lo)])
dd_text(p5, 122, [("direct detection", -10.22), ("and", -10.47), ("stellar constraints", -10.72)])
add_text(p5, 428, 10 ** -12.94, "WD cooling hint", 16, color="#d88a4e", align="center", units="data")
curve_labels(p5, 865, [-11.20, -12.22, -13.24, -14.14, -15.09])
legend(p5, xr, yr, FW, 502, (473, 450, 425))
add_text(p5, 30, 36, "Xe", 18)

# ---- Xe dark photon ----
xr, yr = (10, 1500), (1e-20, 1e-13)
p6 = make_fig(xr, yr, 651, 555, 144, 5, 21, 32, EPS, "normal", 22, 8)
dp_bg(p6, xe_d_con_x, xe_d_con_y)
draw_series(p6, xe_d_x, [
    ("100g", xe_d_100g, None, None, None),
    ("1kg", xe_d_1kg, xe_d_1kg_free, xe_d_1kg_hi, xe_d_1kg_lo),
    ("10kg", xe_d_10kg, xe_d_10kg_free, xe_d_10kg_hi, xe_d_10kg_lo),
    ("100kg", xe_d_100kg, xe_d_100kg_free, xe_d_100kg_hi, xe_d_100kg_lo),
    ("1000kg", xe_d_1000kg, xe_d_1000kg_free, xe_d_1000kg_hi, xe_d_1000kg_lo)])
dd_text(p6, 95.5, [("direct detection", -13.40), ("and stellar constraints", -13.69)])
curve_labels(p6, 865, [-13.69, -14.75, -15.79, -16.85, -17.68])
legend(p6, xr, yr, FW, 502, (76, 53, 28))
add_text(p6, 30, 36, "Xe", 18)

s1 = title_strip(30, 19)
s2 = title_strip(30, 19)
s3 = title_strip(24, 15)

layout = column(row(p1, p2), s1, row(p3, p4), s2, row(p5, p6), s3)
open("out.html", "w").write(file_html(layout, INLINE, "Sensitivity projections"))
